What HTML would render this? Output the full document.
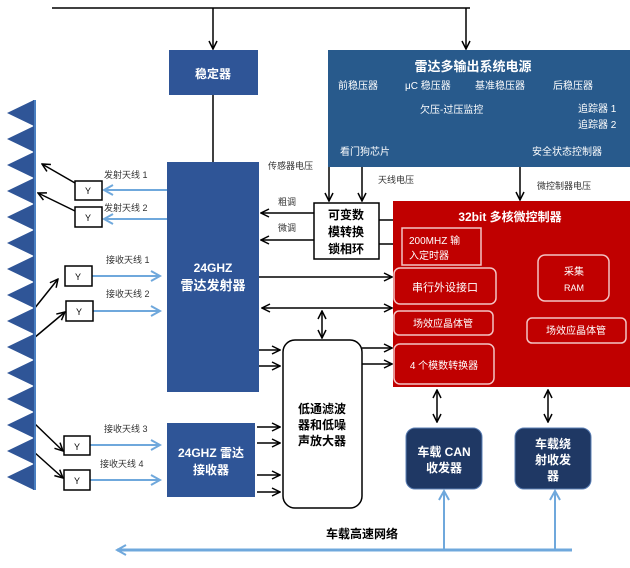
<!DOCTYPE html>
<html><head><meta charset="utf-8"><style>
body{margin:0;background:#fff;}
text{font-family:"Liberation Sans","Noto Sans CJK SC",sans-serif;}
</style></head><body>
<svg width="630" height="563" viewBox="0 0 630 563" xmlns="http://www.w3.org/2000/svg">
<defs>
<marker id="ab" markerWidth="10" markerHeight="10" refX="9" refY="5" orient="auto" markerUnits="userSpaceOnUse"><path d="M1,1 L9,5 L1,9" fill="none" stroke="#000" stroke-width="1.5"/></marker>
<marker id="abs" markerWidth="10" markerHeight="10" refX="1" refY="5" orient="auto" markerUnits="userSpaceOnUse"><path d="M9,1 L1,5 L9,9" fill="none" stroke="#000" stroke-width="1.5"/></marker>
<marker id="bl" markerWidth="12" markerHeight="12" refX="10" refY="6" orient="auto" markerUnits="userSpaceOnUse"><path d="M1,1 L10,6 L1,11" fill="none" stroke="#6fa8dc" stroke-width="2"/></marker>
</defs>
<g stroke="#000" stroke-width="1.5" fill="none">
<line x1="52" y1="8" x2="470" y2="8"/>
<line x1="213" y1="8" x2="213" y2="49" marker-end="url(#ab)"/>
<line x1="466" y1="8" x2="466" y2="49" marker-end="url(#ab)"/>
<line x1="213" y1="95" x2="213" y2="162"/>
<line x1="329" y1="167" x2="329" y2="201" marker-end="url(#ab)"/>
<line x1="362" y1="167" x2="362" y2="201" marker-end="url(#ab)"/>
<line x1="520" y1="167" x2="520" y2="200" marker-end="url(#ab)"/>
<line x1="314" y1="213" x2="261" y2="213" marker-end="url(#ab)"/>
<line x1="314" y1="240" x2="261" y2="240" marker-end="url(#ab)"/>
<line x1="379" y1="220" x2="393" y2="220"/>
<line x1="379" y1="244" x2="393" y2="244"/>
<line x1="259" y1="277" x2="392" y2="277" marker-end="url(#ab)"/>
<line x1="262" y1="308" x2="392" y2="308" marker-end="url(#ab)" marker-start="url(#abs)"/>
<line x1="322" y1="311" x2="322" y2="338" marker-end="url(#ab)" marker-start="url(#abs)"/>
<line x1="259" y1="350" x2="280" y2="350" marker-end="url(#ab)"/>
<line x1="259" y1="366" x2="280" y2="366" marker-end="url(#ab)"/>
<line x1="257" y1="427" x2="280" y2="427" marker-end="url(#ab)"/>
<line x1="257" y1="443" x2="280" y2="443" marker-end="url(#ab)"/>
<line x1="257" y1="475" x2="280" y2="475" marker-end="url(#ab)"/>
<line x1="257" y1="492" x2="280" y2="492" marker-end="url(#ab)"/>
<line x1="362" y1="348" x2="392" y2="348" marker-end="url(#ab)"/>
<line x1="362" y1="364" x2="392" y2="364" marker-end="url(#ab)"/>
<line x1="437" y1="390" x2="437" y2="422" marker-end="url(#ab)" marker-start="url(#abs)"/>
<line x1="548" y1="390" x2="548" y2="422" marker-end="url(#ab)" marker-start="url(#abs)"/>
<line x1="75" y1="183" x2="42" y2="164" marker-end="url(#ab)"/>
<line x1="75" y1="211" x2="38" y2="193" marker-end="url(#ab)"/>
<line x1="34" y1="309" x2="58" y2="279" marker-end="url(#ab)"/>
<line x1="34" y1="338" x2="65" y2="312" marker-end="url(#ab)"/>
<line x1="34" y1="423" x2="63" y2="451" marker-end="url(#ab)"/>
<line x1="34" y1="452" x2="63" y2="478" marker-end="url(#ab)"/>
</g>
<!-- antenna -->
<g fill="#2f5597">
<rect x="33" y="100" width="3" height="390" fill="#4a7fc1"/>
<path d="M34,100 L7,113 L34,126Z M34,126 L7,139 L34,152Z M34,152 L7,165 L34,178Z M34,178 L7,191 L34,204Z M34,204 L7,217 L34,230Z M34,230 L7,243 L34,256Z M34,256 L7,269 L34,282Z M34,282 L7,295 L34,308Z M34,308 L7,321 L34,334Z M34,334 L7,347 L34,360Z M34,360 L7,373 L34,386Z M34,386 L7,399 L34,412Z M34,412 L7,425 L34,438Z M34,438 L7,451 L34,464Z M34,464 L7,477 L34,490Z"/>
</g>
<!-- blue arrows -->
<g stroke="#6fa8dc" stroke-width="2" fill="none">
<line x1="167" y1="190" x2="104" y2="190" marker-end="url(#bl)"/>
<line x1="167" y1="219" x2="104" y2="219" marker-end="url(#bl)"/>
<line x1="92" y1="276" x2="160" y2="276" marker-end="url(#bl)"/>
<line x1="93" y1="311" x2="160" y2="311" marker-end="url(#bl)"/>
<line x1="90" y1="445" x2="160" y2="445" marker-end="url(#bl)"/>
<line x1="90" y1="480" x2="160" y2="480" marker-end="url(#bl)"/>
<line x1="572" y1="550" x2="117" y2="550" stroke-width="3" marker-end="url(#bl)"/>
<line x1="444" y1="550" x2="444" y2="491" marker-end="url(#bl)"/>
<line x1="555" y1="550" x2="555" y2="491" marker-end="url(#bl)"/>
</g>
<!-- Y boxes -->
<g fill="#fff" stroke="#000" stroke-width="1.5">
<rect x="75" y="181" width="27" height="19"/><rect x="75" y="207" width="27" height="20"/>
<rect x="65" y="266" width="27" height="20"/><rect x="66" y="301" width="27" height="20"/>
<rect x="64" y="436" width="26" height="19"/><rect x="64" y="470" width="26" height="20"/>
</g>
<g font-size="9" text-anchor="middle" fill="#000">
<text x="88" y="194">Y</text><text x="88" y="221">Y</text><text x="78" y="280">Y</text><text x="79" y="315">Y</text><text x="77" y="450">Y</text><text x="77" y="484">Y</text>
</g>
<g font-size="9" fill="#333">
<text x="104" y="178">发射天线 1</text><text x="104" y="211">发射天线 2</text>
<text x="106" y="263">接收天线 1</text><text x="106" y="297">接收天线 2</text>
<text x="104" y="432">接收天线 3</text><text x="100" y="467">接收天线 4</text>
<text x="268" y="169">传感器电压</text><text x="278" y="205">粗调</text><text x="278" y="231">微调</text>
<text x="378" y="183">天线电压</text><text x="537" y="189">微控制器电压</text>
</g>
<!-- blocks -->
<rect x="169" y="50" width="89" height="45" fill="#2f5597"/>
<text x="213" y="78" font-size="12" font-weight="bold" fill="#fff" text-anchor="middle">稳定器</text>
<rect x="167" y="162" width="92" height="230" fill="#2f5597"/>
<text x="213" y="272" font-size="12" font-weight="bold" fill="#fff" text-anchor="middle">24GHZ</text>
<text x="213" y="290" font-size="13" font-weight="bold" fill="#fff" text-anchor="middle">雷达发射器</text>
<rect x="167" y="423" width="88" height="74" fill="#2f5597"/>
<text x="211" y="457" font-size="12" font-weight="bold" fill="#fff" text-anchor="middle">24GHZ 雷达</text>
<text x="211" y="474" font-size="12" font-weight="bold" fill="#fff" text-anchor="middle">接收器</text>
<rect x="328" y="50" width="302" height="117" fill="#285a8c"/>
<g fill="#fff" font-size="10">
<text x="473" y="71" font-size="13" font-weight="bold" text-anchor="middle">雷达多输出系统电源</text>
<text x="338" y="89">前稳压器</text><text x="405" y="89">μC 稳压器</text><text x="475" y="89">基准稳压器</text><text x="553" y="89">后稳压器</text>
<text x="420" y="113">欠压-过压监控</text><text x="578" y="112">追踪器 1</text><text x="578" y="128">追踪器 2</text>
<text x="340" y="155">看门狗芯片</text><text x="532" y="155">安全状态控制器</text>
</g>
<rect x="314" y="203" width="65" height="56" fill="#fff" stroke="#000" stroke-width="1.5"/>
<g font-size="12" font-weight="bold" text-anchor="middle"><text x="346" y="219">可变数</text><text x="346" y="236">模转换</text><text x="346" y="253">锁相环</text></g>
<rect x="393" y="201" width="237" height="186" fill="#c00000"/>
<g fill="none" stroke="#f3c4c4" stroke-width="1.5">
<rect x="402" y="228" width="79" height="37"/>
<rect x="394" y="268" width="102" height="36" rx="6"/>
<rect x="394" y="311" width="99" height="24" rx="5"/>
<rect x="394" y="344" width="100" height="40" rx="6"/>
<rect x="538" y="255" width="71" height="46" rx="7"/>
<rect x="527" y="318" width="99" height="25" rx="5"/>
</g>
<g fill="#fff" font-size="10">
<text x="510" y="221" font-size="12" font-weight="bold" text-anchor="middle">32bit 多核微控制器</text>
<text x="409" y="244">200MHZ 输</text><text x="409" y="259">入定时器</text>
<text x="445" y="291" text-anchor="middle" font-size="11">串行外设接口</text>
<text x="443" y="327" text-anchor="middle">场效应晶体管</text>
<text x="444" y="369" text-anchor="middle">4 个模数转换器</text>
<text x="574" y="275" text-anchor="middle">采集</text><text x="574" y="291" text-anchor="middle" font-size="9">RAM</text>
<text x="576" y="334" text-anchor="middle">场效应晶体管</text>
</g>
<rect x="283" y="340" width="79" height="168" rx="12" fill="#fff" stroke="#000" stroke-width="1.5"/>
<g font-size="12" font-weight="bold" text-anchor="middle"><text x="322" y="413">低通滤波</text><text x="322" y="429">器和低噪</text><text x="322" y="445">声放大器</text></g>
<rect x="406" y="428" width="76" height="61" rx="9" fill="#1f3864" stroke="#5b7fb5"/>
<rect x="515" y="428" width="76" height="61" rx="9" fill="#1f3864" stroke="#5b7fb5"/>
<g fill="#fff" font-size="12" font-weight="bold" text-anchor="middle">
<text x="444" y="456">车载 CAN</text><text x="444" y="472">收发器</text>
<text x="553" y="448">车载绕</text><text x="553" y="464">射收发</text><text x="553" y="480">器</text>
</g>
<text x="362" y="538" font-size="12" font-weight="bold" text-anchor="middle">车载高速网络</text>
</svg>
</body></html>
